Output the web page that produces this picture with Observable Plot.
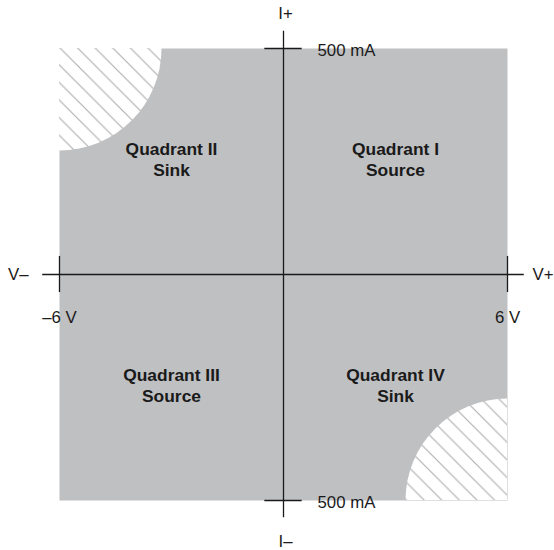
<!DOCTYPE html>
<html><head><meta charset="utf-8">
<script src="https://cdn.jsdelivr.net/npm/d3@7"></script>
<script src="https://cdn.jsdelivr.net/npm/@observablehq/plot@0.6"></script>
<style>body{margin:0;background:#fff;}</style>
</head><body><div id="chart"></div>
<script>
const voltageDomain = [-6, 6];
const currentDomain = [-500, 500];
const axisExtentV = [-6.45, 6.45];
const axisExtentI = [-538, 538];
const quadrantLabels = ["Quadrant I\nSource", "Quadrant II\nSink", "Quadrant III\nSource", "Quadrant IV\nSink"];
const quadrantV = [3, -3, -3, 3];
const quadrantI = [250, 250, -250, -250];
const hatchCornersV = [-6, 6];
const hatchCornersI = [500, -500];
const currentTicks = [500, -500];
const currentTickLabels = ["500 mA", "500 mA"];
const voltageTicks = [-6, 6];
const voltageTickLabels = ["\u20136 V", "6 V"];

const font = "'Liberation Sans', Arial, Helvetica, sans-serif";
const ink = "#1a1a1a";

const svg = Plot.plot({
  width: 554,
  height: 550,
  marginLeft: 59,
  marginRight: 47,
  marginTop: 48,
  marginBottom: 50,
  style: {fontFamily: font, background: "#fff"},
  x: {domain: voltageDomain, axis: null},
  y: {domain: currentDomain, axis: null},
  marks: [
    Plot.frame({fill: "#bfc0c2", stroke: "none"}),
    Plot.dot(hatchCornersV.map((v, i) => ({v, c: hatchCornersI[i]})), {
      x: "v", y: "c", r: 102, fill: "url(#hatch)", stroke: "none", clip: "frame"
    }),
    Plot.ruleY([0], {x1: axisExtentV[0], x2: axisExtentV[1], stroke: ink, strokeWidth: 1.3}),
    Plot.ruleX([0], {y1: axisExtentI[0], y2: axisExtentI[1], stroke: ink, strokeWidth: 1.3}),
    Plot.ruleY(currentTicks, {x1: -0.5, x2: 0.5, stroke: ink, strokeWidth: 1.3}),
    Plot.ruleX(voltageTicks, {y1: -40, y2: 40, stroke: ink, strokeWidth: 1.3}),
    Plot.text(currentTicks, {x: 0, y: d => d, text: (d, i) => currentTickLabels[i], textAnchor: "start", dx: 34, dy: 2, fontSize: 16.8, fill: ink}),
    Plot.text(voltageTicks, {x: d => d, y: 0, text: (d, i) => voltageTickLabels[i], dy: 43, fontSize: 16.8, fill: ink}),
    Plot.text(["I+"], {x: 0, y: 500, text: d => d, dx: 2, dy: -35, fontSize: 16.8, fill: ink}),
    Plot.text(["I\u2013"], {x: 0, y: -500, text: d => d, dx: 2, dy: 41, fontSize: 16.8, fill: ink}),
    Plot.text(["V\u2013"], {x: -6, y: 0, text: d => d, textAnchor: "end", dx: -31, fontSize: 16.8, fill: ink}),
    Plot.text(["V+"], {x: 6, y: 0, text: d => d, textAnchor: "start", dx: 25, fontSize: 16.8, fill: ink}),
    Plot.text(quadrantLabels, {x: (d, i) => quadrantV[i], y: (d, i) => quadrantI[i], text: d => d, dy: -2.5, fontSize: 17.4, fontWeight: "bold", lineHeight: 1.2, fill: ink})
  ]
});

const s = 17.6;
const defs = d3.select(svg).insert("defs", ":first-child");
const pat = defs.append("pattern")
  .attr("id", "hatch")
  .attr("patternUnits", "userSpaceOnUse")
  .attr("width", s).attr("height", s)
  .attr("patternTransform", "translate(12,0)");
pat.append("rect").attr("width", s).attr("height", s).attr("fill", "#fff");
pat.append("path")
  .attr("d", `M-1,-1L${s + 1},${s + 1}M${s - 1},-1L${s + 1},1M-1,${s - 1}L1,${s + 1}`)
  .attr("stroke", "#adadad").attr("stroke-width", 1.1).attr("fill", "none");

document.getElementById("chart").appendChild(svg);
</script>
</body></html>
